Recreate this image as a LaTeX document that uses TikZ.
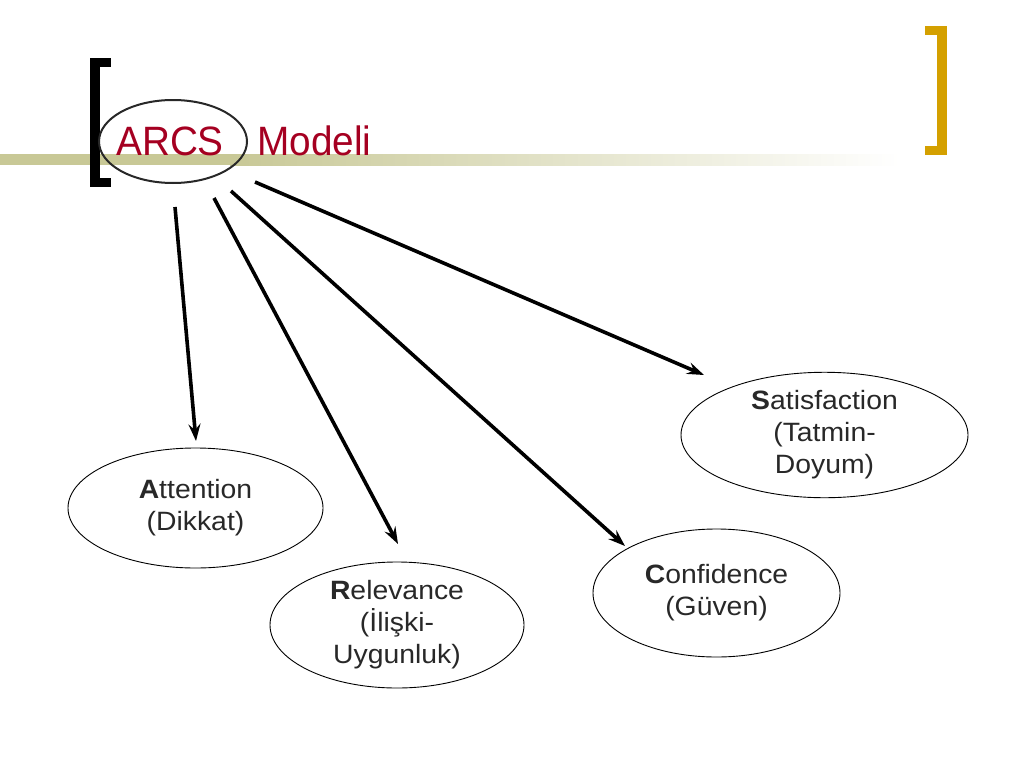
\documentclass[tikz,border=0pt]{standalone}
\usepackage{fontspec}
\setmainfont{Liberation Sans}
\newfontfamily\titlefont{Liberation Sans}[FakeStretch=0.945]
\newfontfamily\bodyfont{Liberation Sans}[FakeStretch=1.07]
\usetikzlibrary{shapes.geometric,arrows.meta}
\definecolor{titlered}{RGB}{165,0,33}
\definecolor{band}{RGB}{200,200,150}
\definecolor{gold}{RGB}{212,160,0}
\definecolor{txt}{RGB}{40,40,40}
\tikzset{
  bubble/.style={ellipse,draw=black,line width=0.9pt,inner sep=0pt,align=center,
    text=txt,font=\bodyfont\fontsize{26.5}{32}\selectfont},
  arr/.style={line width=3.6pt,-{Stealth[length=17pt,width=12pt,inset=6pt]}},
  titletxt/.style={inner sep=0pt,anchor=base west,text=titlered,font=\titlefont\fontsize{41}{44}\selectfont}
}
\begin{document}
\begin{tikzpicture}[x=1pt,y=-1pt]
\useasboundingbox (0,0) rectangle (1024,768);
% band
\fill[band] (0,154) rectangle (230,165);
\shade[left color=band,right color=white] (230,154) rectangle (900,165);
% left bracket
\fill[black] (90,58) rectangle (100,187);
\fill[black] (90,58) rectangle (111,67);
\fill[black] (90,178) rectangle (111,187);
% right bracket
\fill[gold] (937,26) rectangle (947,155);
\fill[gold] (925,26) rectangle (947,35);
\fill[gold] (925,146) rectangle (947,155);
% title
\node[ellipse,draw=txt,line width=2pt,minimum width=148pt,minimum height=83pt,inner sep=0pt] (arcsell) at (173,141.5) {};
\node[titletxt] (arcs) at (116,155) {ARCS};
\node[titletxt] (modeli) at (257,155) {Modeli};
% bubbles
\node[bubble,minimum width=255pt,minimum height=120pt] (att) at (195.5,508) {\textbf{A}ttention\\(Dikkat)};
\node[bubble,minimum width=254pt,minimum height=126pt] (rel) at (397,625) {\textbf{R}elevance\\(İlişki-\\Uygunluk)};
\node[bubble,minimum width=247pt,minimum height=128pt] (con) at (716.5,593) {\textbf{C}onfidence\\(Güven)};
\node[bubble,minimum width=287pt,minimum height=118pt] (sat) at (824.5,435) {\textbf{S}atisfaction\\(Tatmin-\\Doyum)};
% arrow coordinates
\coordinate (s1) at (175,207);
\coordinate (s2) at (214,198);
\coordinate (s3) at (231,191);
\coordinate (s4) at (255,182);
\coordinate (e1) at (196,441);
\coordinate (e2) at (398,544);
\coordinate (e3) at (625,546);
\coordinate (e4) at (704,375);
\draw[arr] (s1) -- (e1);
\draw[arr] (s2) -- (e2);
\draw[arr] (s3) -- (e3);
\draw[arr] (s4) -- (e4);
\end{tikzpicture}
\end{document}
